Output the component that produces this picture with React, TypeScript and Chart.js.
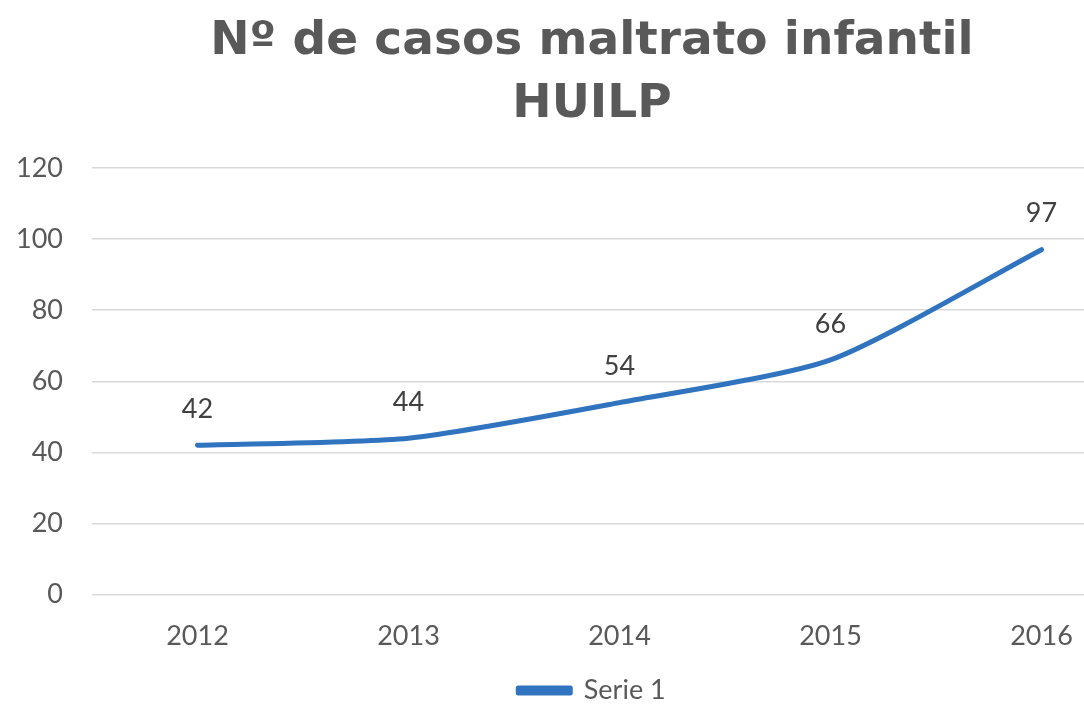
import React, { useEffect, useRef } from "react";
import { Chart, registerables } from "chart.js";

Chart.register(...registerables);

const years = ["2012", "2013", "2014", "2015", "2016"];
const casos = [42, 44, 54, 66, 97];
const yTicks = [0, 20, 40, 60, 80, 100, 120];
const titleLines = ["Nº de casos maltrato infantil", "HUILP"];
const seriesName = "Serie 1";

const FONT = "Lato, 'Open Sans', sans-serif";
const TITLE_FONT = "'DejaVu Sans', sans-serif";

const valueLabels = {
  id: "valueLabels",
  afterDatasetsDraw(chart: any) {
    const ctx = chart.ctx;
    ctx.save();
    ctx.font = `27px ${FONT}`;
    ctx.fillStyle = "#404040";
    ctx.textAlign = "center";
    ctx.textBaseline = "middle";
    chart.data.datasets.forEach((ds: any, i: number) => {
      const meta = chart.getDatasetMeta(i);
      meta.data.forEach((pt: any, j: number) => {
        ctx.fillText(String(ds.data[j]), pt.x, pt.y - 36);
      });
    });
    ctx.restore();
  },
};

export default function App() {
  const ref = useRef<HTMLCanvasElement>(null);
  useEffect(() => {
    document.body.style.margin = "0";
    const chart = new Chart(ref.current!, {
      type: "line",
      data: {
        labels: years,
        datasets: [
          {
            label: seriesName,
            data: casos,
            borderColor: "#3074c0",
            backgroundColor: "#3074c0",
            borderWidth: 5,
            pointRadius: 0,
            tension: 0.22,
            borderCapStyle: "round",
            borderJoinStyle: "round",
          } as any,
        ],
      },
      options: {
        responsive: false,
        animation: false,
        layout: { padding: { left: 0, right: 0, top: 0, bottom: -5 } },
        plugins: {
          title: {
            display: true,
            text: titleLines,
            color: "#595959",
            font: { family: TITLE_FONT, size: 47, weight: "bold", lineHeight: 1.34 },
            padding: { top: 10, bottom: 32 },
          },
          legend: {
            position: "bottom",
            labels: {
              color: "#595959",
              font: { family: FONT, size: 27 },
              boxWidth: 52,
              boxHeight: 5,
              padding: 0,
            },
          },
          tooltip: { enabled: false },
        },
        scales: {
          x: {
            offset: true,
            grid: { display: false, drawTicks: false },
            border: { display: false },
            ticks: {
              color: "#595959",
              font: { family: FONT, size: 27 },
              padding: 25,
            },
          },
          y: {
            min: 0,
            max: 120,
            afterBuildTicks: (scale: any) => {
              scale.ticks = yTicks.map((v) => ({ value: v }));
            },
            afterFit: (scale: any) => {
              scale.width = 92;
            },
            grid: { color: "#d9d9d9", lineWidth: 1.5, drawTicks: false },
            border: { display: false },
            ticks: {
              color: "#595959",
              font: { family: FONT, size: 27 },
              padding: 29,
            },
          },
          y2: {
            position: "right",
            display: true,
            min: 0,
            max: 120,
            afterFit: (scale: any) => {
              scale.width = 37;
            },
            grid: { display: false, drawTicks: false },
            border: { display: false },
            ticks: { display: false },
          },
        },
      } as any,
      plugins: [valueLabels],
    });
    return () => chart.destroy();
  }, []);
  return (
    <div
      style={{
        position: "fixed",
        left: 0,
        top: 0,
        width: 1084,
        height: 709,
        overflow: "hidden",
        background: "#ffffff",
      }}
    >
      <canvas ref={ref} width={1184} height={709} style={{ display: "block" }} />
    </div>
  );
}
